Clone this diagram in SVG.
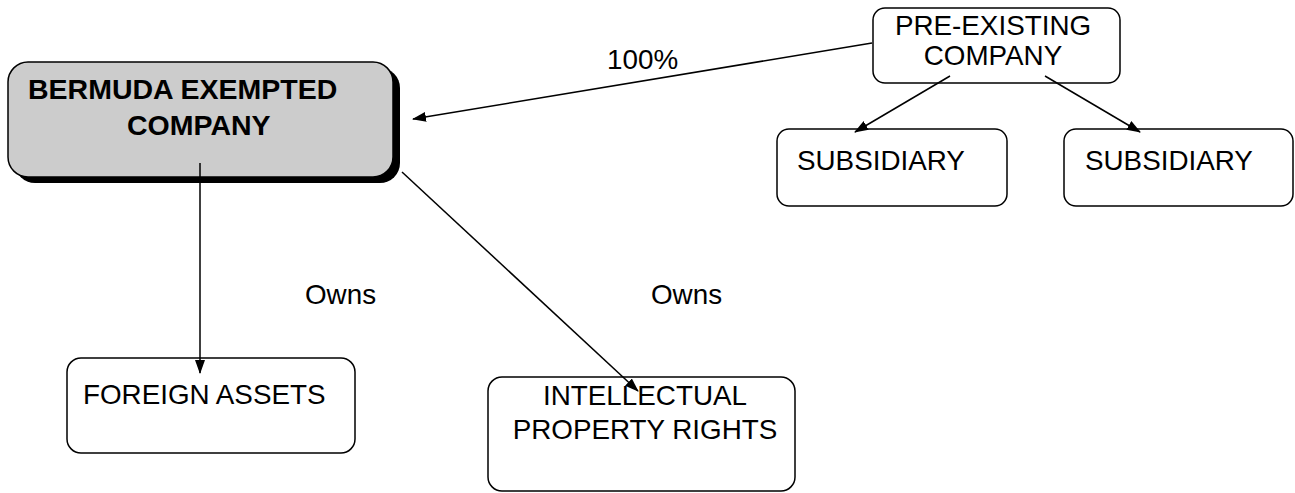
<svg xmlns="http://www.w3.org/2000/svg" width="1295" height="493" viewBox="0 0 1295 493">
<defs>
<marker id="ah" markerWidth="14" markerHeight="10" refX="13" refY="5" orient="auto" markerUnits="userSpaceOnUse">
<path d="M0,0 L14,5 L0,10 z" fill="#000"/>
</marker>
<style>
.box{fill:#fff;stroke:#000;stroke-width:1.5}
.t{font-family:"Liberation Sans",Arial,sans-serif;font-size:27.8px;fill:#000}
.b{font-weight:bold;font-size:28.5px}
.c{stroke:#000;stroke-width:1.5;fill:none;marker-end:url(#ah)}
</style>
</defs>
<g id="bermuda">
<rect x="15" y="68" width="385" height="115" rx="20" fill="#000"/>
<rect x="8" y="62" width="385" height="115" rx="20" fill="#cccccc" stroke="#000" stroke-width="1.5"/>
<text class="t b" x="28" y="99">BERMUDA EXEMPTED</text>
<text class="t b" x="127" y="135">COMPANY</text>
</g>
<g id="preexisting">
<rect class="box" x="873" y="8" width="247" height="75" rx="12"/>
<text class="t" x="993" y="35" text-anchor="middle">PRE-EXISTING</text>
<text class="t" x="993" y="65" text-anchor="middle">COMPANY</text>
</g>
<g id="sub1">
<rect class="box" x="777" y="129" width="230" height="77" rx="12"/>
<text class="t" x="797" y="170">SUBSIDIARY</text>
</g>
<g id="sub2">
<rect class="box" x="1064" y="129" width="229" height="77" rx="12"/>
<text class="t" x="1085" y="170">SUBSIDIARY</text>
</g>
<g id="foreign">
<rect class="box" x="67" y="358" width="288" height="95" rx="14"/>
<text class="t" x="83" y="404">FOREIGN ASSETS</text>
</g>
<g id="ip">
<rect class="box" x="488" y="377" width="307" height="114" rx="14"/>
<text class="t" x="645" y="405" text-anchor="middle">INTELLECTUAL</text>
<text class="t" x="645" y="439" text-anchor="middle">PROPERTY RIGHTS</text>
</g>
<g id="connectors">
<line class="c" x1="872" y1="43" x2="413" y2="119"/>
<line class="c" x1="950" y1="76" x2="855" y2="132"/>
<line class="c" x1="1045" y1="76" x2="1140" y2="132"/>
<line class="c" x1="200" y1="163" x2="200" y2="373"/>
<line class="c" x1="402" y1="172" x2="638" y2="391"/>
</g>
<g id="labels">
<text class="t" x="607" y="69">100%</text>
<text class="t" x="305" y="304">Owns</text>
<text class="t" x="651" y="304">Owns</text>
</g>
</svg>
